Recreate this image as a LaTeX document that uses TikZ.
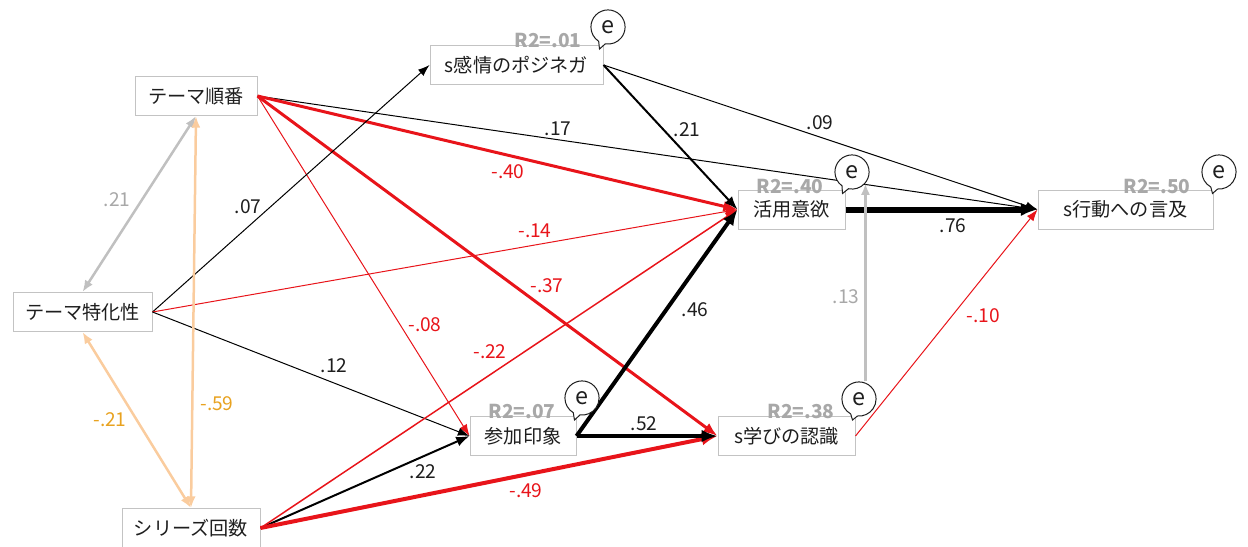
\documentclass[tikz,border=0pt]{standalone}
\usepackage{fontspec}
\setmainfont{Noto Sans CJK JP}
\usetikzlibrary{arrows.meta,shapes.callouts,calc}
\definecolor{rd}{RGB}{232,20,26}
\definecolor{boxgray}{RGB}{195,195,195}
\definecolor{corgray}{RGB}{192,192,192}
\definecolor{txtgray}{RGB}{168,168,168}
\definecolor{peach}{RGB}{250,204,158}
\definecolor{gold}{RGB}{232,162,32}
\definecolor{ink}{RGB}{30,30,30}
\tikzset{
  box/.style={draw=boxgray, line width=0.6pt, fill=white, minimum height=23.4pt, inner sep=0pt, text=ink, font=\fontsize{11.5pt}{13pt}\selectfont},
  lb/.style={inner sep=1pt, text=ink, font=\fontsize{11.5pt}{13pt}\selectfont},
  lbr/.style={lb, text=rd},
  lbg/.style={lb, text=txtgray},
  lbo/.style={lb, text=gold},
  rsq/.style={inner sep=0pt, text=txtgray, font=\bfseries\fontsize{11.5pt}{13pt}\selectfont},
  ebub/.style={ellipse callout, draw=ink, line width=0.6pt, fill=white, minimum width=20.5pt, minimum height=20.5pt, inner sep=0pt, callout pointer arc=24, font=\fontsize{14pt}{15pt}\selectfont, text=ink},
  w1/.style={line width=0.6pt,-{Latex[length=7pt,width=5pt]}},
  w2/.style={line width=0.9pt,-{Latex[length=7.5pt,width=5.5pt]}},
  w3/.style={line width=1.2pt,-{Latex[length=8pt,width=6pt]}},
  w4/.style={line width=1.8pt,-{Latex[length=8.5pt,width=6.5pt]}},
  w5/.style={line width=2.4pt,-{Latex[length=9.5pt,width=7.5pt]}},
  w6/.style={line width=3.6pt,-{Latex[length=10pt,width=8pt]}},
  blk/.style={draw=black},
  rdl/.style={draw=rd},
  corg/.style={draw=corgray, line width=1.5pt, {Latex[length=7pt,width=5.5pt]}-{Latex[length=7pt,width=5.5pt]}},
  coro/.style={draw=peach, line width=1.5pt, {Latex[length=7pt,width=5.5pt]}-{Latex[length=7pt,width=5.5pt]}},
}
\begin{document}
\begin{tikzpicture}[x=0.6pt,y=-0.6pt]
\useasboundingbox (0,0) rectangle (1248,546);

% nodes (boxes)
\node[box, minimum width=103.8pt] (sk) at (516.5,65) {s感情のポジネガ};
\node[box, minimum width=73.2pt] (tj) at (196,96) {テーマ順番};
\node[box, minimum width=83.4pt] (tt) at (82.5,312) {テーマ特化性};
\node[box, minimum width=82.8pt] (sr) at (191,528) {シリーズ回数};
\node[box, minimum width=64.2pt] (ky) at (791.5,209.5) {活用意欲};
\node[box, minimum width=105pt] (kd) at (1125.5,209.5) {s行動への言及};
\node[box, minimum width=63.6pt] (sa) at (523,436) {参加印象};
\node[box, minimum width=82.2pt] (mn) at (786.5,436) {s学びの認識};

% paths
\draw[blk,w1] (tj.east) -- (kd.west);
\draw[rdl,w4] (tj.east) -- (ky.west);
\draw[rdl,w4] (tj.east) -- (mn.west);
\draw[rdl,w1] (tj.east) -- (sa.west);
\draw[blk,w1] (tt.east) -- (sk.west);
\draw[rdl,w1] (tt.east) -- (ky.west);
\draw[blk,w1] (tt.east) -- (sa.west);
\draw[blk,w3] (sr.east) -- (sa.west);
\draw[rdl,w2] (sr.east) -- (ky.west);
\draw[rdl,w5] (sr.east) -- (mn.west);
\draw[blk,w3] (sk.east) -- (ky.west);
\draw[blk,w1] (sk.east) -- (kd.west);
\draw[blk,w6] (ky.east) -- (kd.west);
\draw[blk,w5] (sa.east) -- (ky.west);
\draw[blk,w5] (sa.east) -- (mn.west);
\draw[rdl,w1] (mn.east) -- (kd.west);
\draw[corg] (tj.south) -- (tt.north);
\draw[coro] (tj.south) -- (sr.north);
\draw[coro] (tt.south) -- (sr.north);

% R2 labels
\node[rsq] (r1) at (548,40) {R2=.01};
\node[rsq] (r2) at (790,186) {R2=.40};
\node[rsq] (r3) at (1157,186) {R2=.50};
\node[rsq] (r4) at (522,411) {R2=.07};
\node[rsq] (r5) at (801,411) {R2=.38};

% error bubbles
\node[ebub, callout absolute pointer={($(sk.north east)+(-4,4)$)}] (e1) at (608,27) {e};
\node[ebub, callout absolute pointer={($(ky.north east)+(-3,4)$)}] (e2) at (852,172) {e};
\node[ebub, callout absolute pointer={($(kd.north east)+(-1,4)$)}] (e3) at (1219,172) {e};
\node[ebub, callout absolute pointer={($(sa.north east)+(-2,4)$)}] (e4) at (582,398) {e};
\node[ebub, callout absolute pointer={($(mn.north east)+(-3,4)$)}] (e5) at (859,399) {e};

\draw[draw=corgray, line width=1.5pt, -{Latex[length=7pt,width=5.5pt]}] (e2.-40 |- e5.north) -- (e2.-40);

% coefficient labels
\node[lbg] (c1) at (117,200) {.21};
\node[lb]  (c2) at (248,207) {.07};
\node[lbo] (c3) at (110,420) {-.21};
\node[lbo] (c4) at (217,404) {-.59};
\node[lb]  (c5) at (558,129) {.17};
\node[lbr] (c6) at (508,172) {-.40};
\node[lb]  (c7) at (687,130) {.21};
\node[lb]  (c8) at (820,123) {.09};
\node[lbr] (c9) at (535,231) {-.14};
\node[lbr] (c10) at (547,286) {-.37};
\node[lb]  (c11) at (695,310) {.46};
\node[lbr] (c12) at (425,325) {-.08};
\node[lbr] (c13) at (490,352) {-.22};
\node[lb]  (c14) at (334,366) {.12};
\node[lbg] (c15) at (846,297) {.13};
\node[lbr] (c16) at (983,316) {-.10};
\node[lb]  (c17) at (953,226) {.76};
\node[lb]  (c18) at (644,424) {.52};
\node[lb]  (c19) at (423,472) {.22};
\node[lbr] (c20) at (526,491) {-.49};
\end{tikzpicture}
\end{document}
